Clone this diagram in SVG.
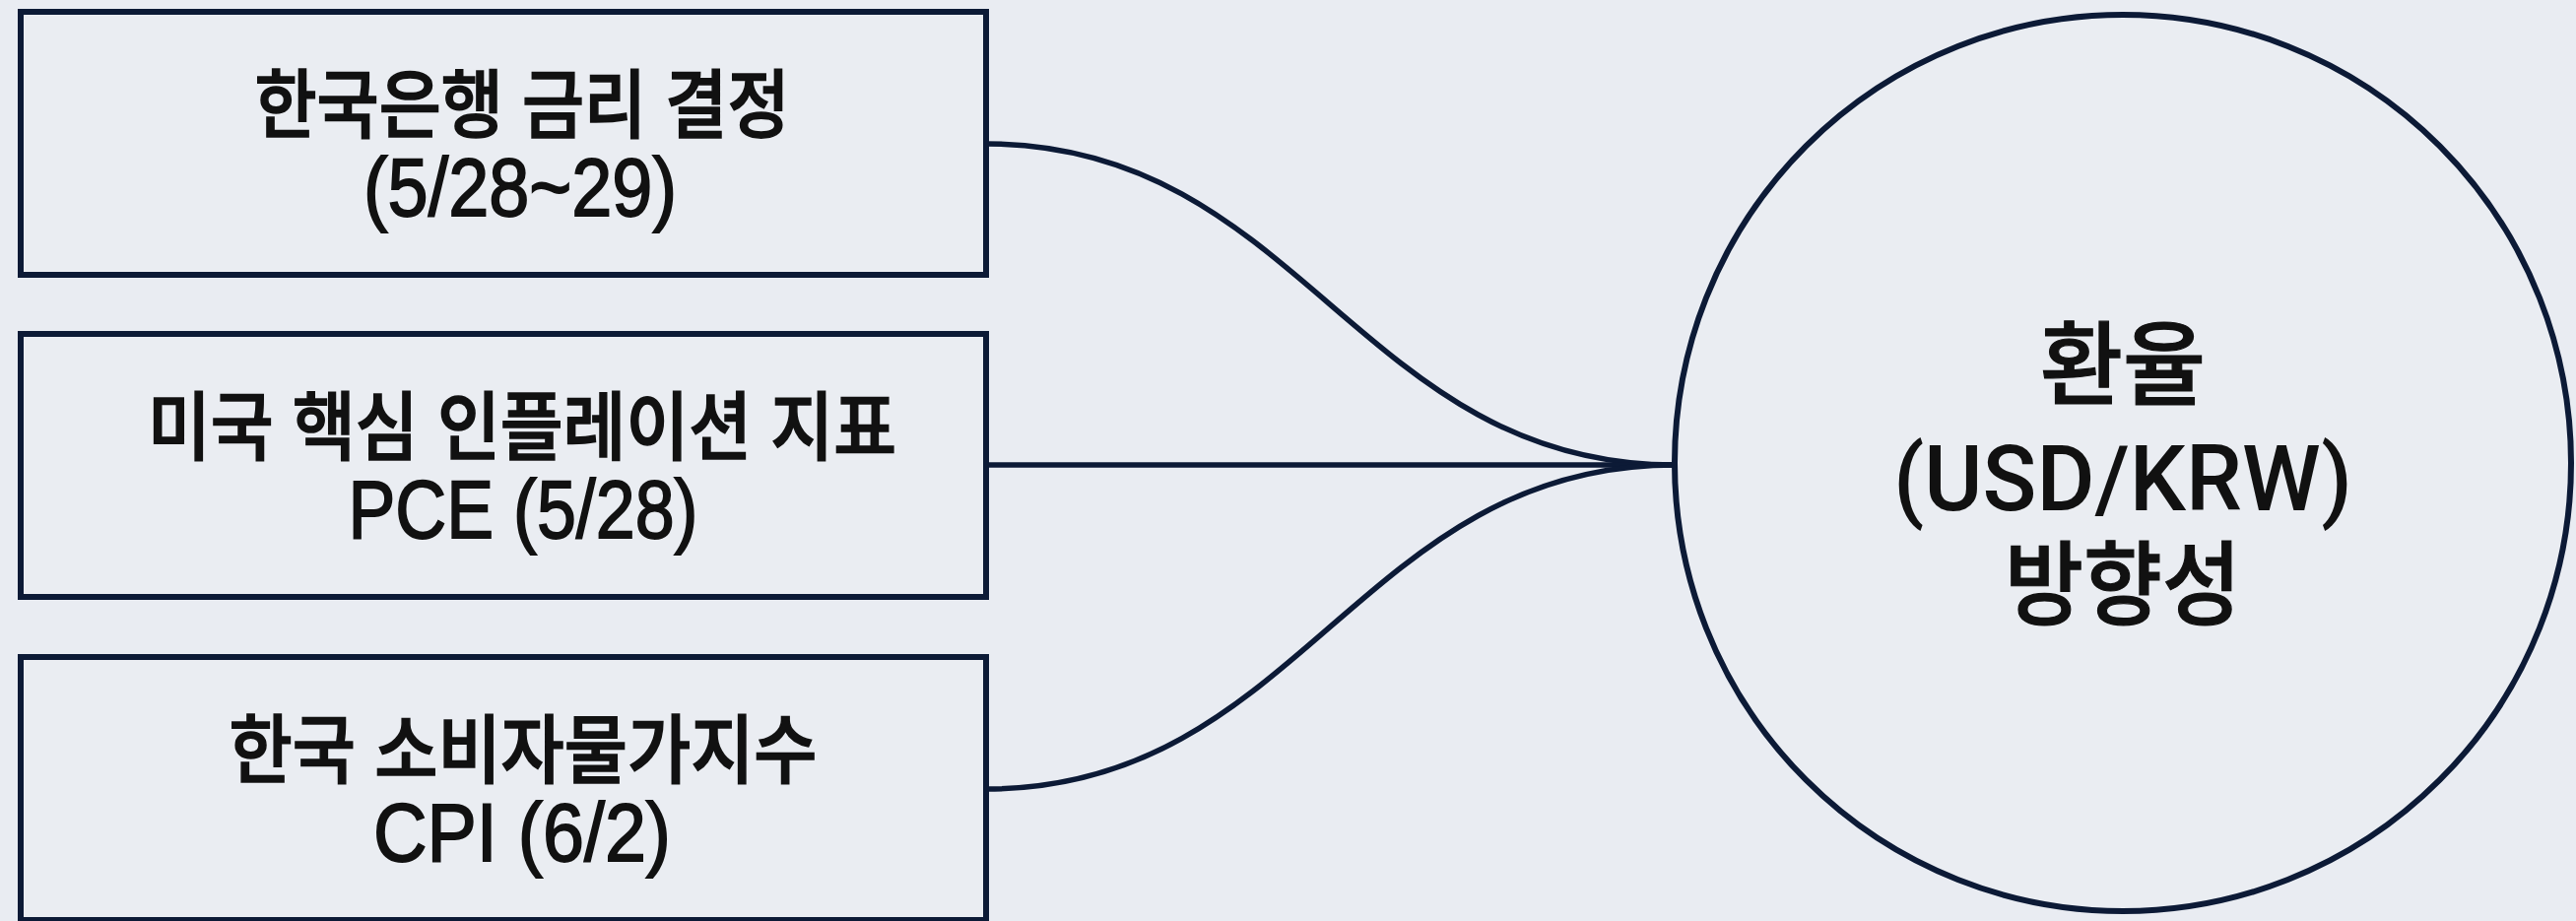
<svg xmlns="http://www.w3.org/2000/svg" width="2615" height="935" viewBox="0 0 2615 935">
<style>
.bg{fill:#e9ecf2}
.box{fill:#eaedf2;stroke:#0c1a36;stroke-width:6}
.hub{fill:#eaedf2;stroke:#0c1a36;stroke-width:6}
.conn{fill:none;stroke:#0c1a36;stroke-width:5.5}
.bt{font-family:"Liberation Sans","Noto Sans CJK KR",sans-serif;font-size:76px;font-weight:500;fill:#111;stroke:#111;stroke-width:1.6;text-anchor:middle}
.bl{font-family:"Liberation Sans","Noto Sans CJK KR",sans-serif;font-size:84px;font-weight:400;fill:#111;stroke:#111;stroke-width:1.8;text-anchor:middle}
.ct{font-family:Roboto,"Noto Sans CJK KR",sans-serif;font-size:93px;font-weight:500;fill:#111;stroke:#111;stroke-width:1.2;text-anchor:middle}
.cl{font-family:Roboto,"Noto Sans CJK KR",sans-serif;font-size:93px;font-weight:500;fill:#111;text-anchor:middle}
</style>
<rect class="bg" x="0" y="0" width="2615" height="935"/>
<g id="connectors">
<path class="conn" d="M1001,146 C1320,146 1380,472 1700,472"/>
<path class="conn" d="M1001,472 L1700,472"/>
<path class="conn" d="M1001,801 C1320,801 1380,472 1700,472"/>
</g>
<g id="node-bok">
<rect class="box" x="21" y="12" width="980" height="267"/>
<text class="bt" x="530" y="134" textLength="543" lengthAdjust="spacingAndGlyphs">한국은행 금리 결정</text>
<text class="bl" x="528" y="219" textLength="318" lengthAdjust="spacingAndGlyphs">(5/28~29)</text>
</g>
<g id="node-pce">
<rect class="box" x="21" y="339" width="980" height="267"/>
<text class="bt" x="530" y="461" textLength="760" lengthAdjust="spacingAndGlyphs">미국 핵심 인플레이션 지표</text>
<text class="bl" x="531" y="546" textLength="355" lengthAdjust="spacingAndGlyphs">PCE (5/28)</text>
</g>
<g id="node-cpi">
<rect class="box" x="21" y="667" width="980" height="267"/>
<text class="bt" x="531" y="789" textLength="597" lengthAdjust="spacingAndGlyphs">한국 소비자물가지수</text>
<text class="bl" x="530" y="874" textLength="302" lengthAdjust="spacingAndGlyphs">CPI (6/2)</text>
</g>
<g id="node-fx">
<circle class="hub" cx="2155" cy="470" r="455"/>
<text class="ct" x="2155" y="404" textLength="168" lengthAdjust="spacingAndGlyphs">환율</text>
<text class="cl" x="2155" y="518" textLength="466" lengthAdjust="spacingAndGlyphs">(USD/KRW)</text>
<text class="ct" x="2155" y="627" textLength="240" lengthAdjust="spacingAndGlyphs">방향성</text>
</g>
</svg>
